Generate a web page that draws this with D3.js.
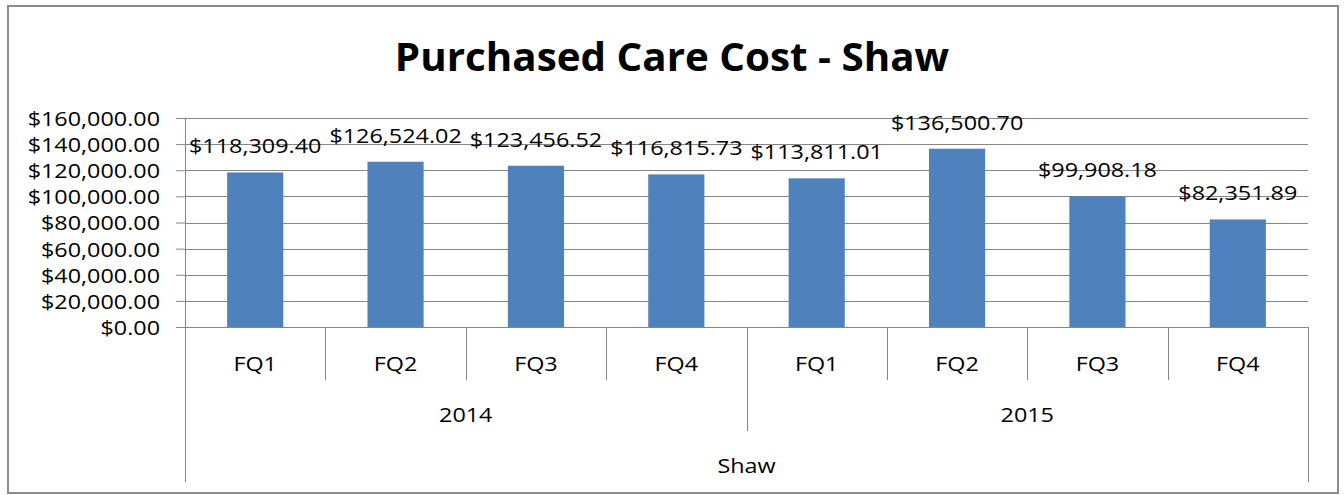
<!DOCTYPE html>
<html>
<head>
<meta charset="utf-8">
<script src="https://cdn.jsdelivr.net/npm/d3@7"></script>
<style>
  body { margin: 0; background: #fff; }
  text { font-family: "Open Sans", sans-serif; fill: #000; }
</style>
</head>
<body>
<div id="wrapper"></div>
<script>
// data
const quarters = ["FQ1", "FQ2", "FQ3", "FQ4", "FQ1", "FQ2", "FQ3", "FQ4"];
const years = ["2014", "2014", "2014", "2014", "2015", "2015", "2015", "2015"];
const costs = [118309.40, 126524.02, 123456.52, 116815.73, 113811.01, 136500.70, 99908.18, 82351.89];
const yTicks = [0, 20000, 40000, 60000, 80000, 100000, 120000, 140000, 160000];
const groupName = "Shaw";
const chartTitle = "Purchased Care Cost - Shaw";

function drawChart() {
    const width = 1344;
    const height = 495;
    const fontSize = '20.5px';
    const stretch = 1.14;     // text in the picture is wider than normal
    const gridColor = "#868686";

    const dims = {
        width: width,
        height: height,
        margin: { top: 118, right: 36, bottom: 168, left: 185 }
    };
    dims.boundedW = dims.width - dims.margin.left - dims.margin.right;
    dims.boundedH = dims.height - dims.margin.top - dims.margin.bottom;

    const svg = d3.select('#wrapper')
        .append('svg')
        .attr('width', dims.width)
        .attr('height', dims.height);

    // outer frame
    svg.append('rect')
        .attr('x', 8).attr('y', 6)
        .attr('width', 1330).attr('height', 487)
        .attr('fill', '#fff')
        .attr('stroke', '#8c8c8c')
        .attr('stroke-width', 2);

    // title
    svg.append('text')
        .attr('transform', `translate(${width / 2}, 71) scale(1.035, 1)`)
        .attr('text-anchor', 'middle')
        .style('font-size', '39px')
        .style('font-weight', 'bold')
        .text(chartTitle);

    const bounds = svg.append('g')
        .attr('transform', `translate(${dims.margin.left}, ${dims.margin.top})`);

    const idx = d3.range(costs.length);

    const xBand = d3.scaleBand()
        .domain(idx)
        .range([0, dims.boundedW])
        .paddingInner(0.6)
        .paddingOuter(0.3);

    const xCat = d3.scaleBand()
        .domain(idx)
        .range([0, dims.boundedW]);

    const yScale = d3.scaleLinear()
        .domain([0, 160000])
        .range([dims.boundedH, 0]);

    // gridlines + y axis
    const yAxis = d3.axisLeft(yScale)
        .tickValues(yTicks)
        .tickSize(9)
        .tickPadding(16)
        .tickFormat(d3.format("$,.2f"));

    const yG = bounds.append('g').call(yAxis);
    yG.select('.domain').attr('stroke', gridColor);
    yG.selectAll('.tick line').attr('stroke', gridColor);
    yG.selectAll('.tick text')
        .attr('fill', '#000')
        .style('font-size', fontSize)
        .attr('dy', '0.36em')
        .attr('transform', function () {
            const x = +d3.select(this).attr('x');
            return `translate(${x * (1 - stretch)}, 0) scale(${stretch}, 1)`;
        });

    bounds.append('g')
        .selectAll('line')
        .data(yTicks)
        .join('line')
        .attr('x1', 0)
        .attr('x2', dims.boundedW)
        .attr('y1', d => Math.round(yScale(d)) + 0.5)
        .attr('y2', d => Math.round(yScale(d)) + 0.5)
        .attr('stroke', gridColor)
        .attr('stroke-width', 1);

    // bars
    bounds.append('g')
        .selectAll('rect')
        .data(idx)
        .join('rect')
        .attr('x', i => xBand(i))
        .attr('y', i => yScale(costs[i]))
        .attr('width', xBand.bandwidth())
        .attr('height', i => dims.boundedH - yScale(costs[i]))
        .attr('fill', '#4f81bd');

    // data labels
    const fmt = d3.format("$,.2f");
    bounds.append('g')
        .selectAll('text')
        .data(idx)
        .join('text')
        .attr('transform', i => `translate(${xBand(i) + xBand.bandwidth() / 2}, ${yScale(costs[i]) - 19}) scale(${stretch}, 1)`)
        .attr('text-anchor', 'middle')
        .style('font-size', fontSize)
        .text(i => fmt(costs[i]));

    // multi-level category axis
    const axisG = bounds.append('g')
        .attr('transform', `translate(0, ${dims.boundedH})`);

    const boundaries = d3.range(costs.length + 1);
    const catX = b => b < costs.length ? xCat(b) : dims.boundedW;

    axisG.selectAll('line.div')
        .data(boundaries)
        .join('line')
        .attr('class', 'div')
        .attr('x1', b => Math.round(catX(b)) + 0.5)
        .attr('x2', b => Math.round(catX(b)) + 0.5)
        .attr('y1', 0)
        .attr('y2', b => {
            if (b === 0 || b === costs.length) return 155;
            if (years[b] !== years[b - 1]) return 104;
            return 53;
        })
        .attr('stroke', gridColor)
        .attr('stroke-width', 1);

    axisG.selectAll('text.q')
        .data(idx)
        .join('text')
        .attr('class', 'q')
        .attr('transform', i => `translate(${xCat(i) + xCat.bandwidth() / 2}, 44) scale(${stretch}, 1)`)
        .attr('text-anchor', 'middle')
        .style('font-size', fontSize)
        .text(i => quarters[i]);

    const yearGroups = d3.groups(idx, i => years[i]);
    axisG.selectAll('text.yr')
        .data(yearGroups)
        .join('text')
        .attr('class', 'yr')
        .attr('transform', g => {
            const first = g[1][0], last = g[1][g[1].length - 1];
            const cx = (xCat(first) + xCat(last) + xCat.bandwidth()) / 2;
            return `translate(${cx}, 95) scale(${stretch}, 1)`;
        })
        .attr('text-anchor', 'middle')
        .style('font-size', fontSize)
        .text(g => g[0]);

    axisG.append('text')
        .attr('transform', `translate(${dims.boundedW / 2}, 146) scale(${stretch}, 1)`)
        .attr('text-anchor', 'middle')
        .style('font-size', fontSize)
        .text(groupName);
}

drawChart();
</script>
</body>
</html>
